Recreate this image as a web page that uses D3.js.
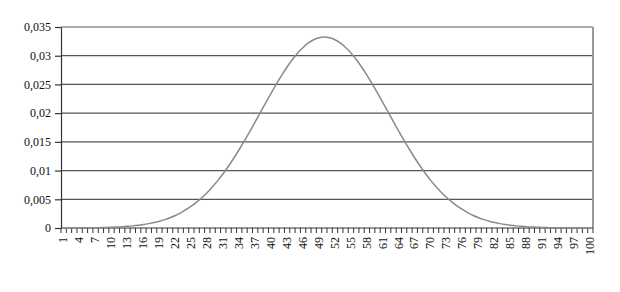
<!DOCTYPE html>
<html><head><meta charset="utf-8">
<script src="https://cdn.jsdelivr.net/npm/d3@7"></script>
<style>html,body{margin:0;padding:0;background:#fff;}svg{display:block;}</style>
</head><body>
<svg id="c" width="620" height="292"></svg>
<script>
const categories = d3.range(1, 101);
const values = [
0.00001,0.00001,0.00002,0.00002,0.00003,0.00004,0.00005,0.00007,0.00010,0.00013,
0.00017,0.00022,0.00029,0.00037,0.00047,0.00060,0.00076,0.00095,0.00118,0.00146,
0.00179,0.00218,0.00264,0.00318,0.00380,0.00450,0.00530,0.00619,0.00719,0.00829,
0.00949,0.01079,0.01219,0.01367,0.01522,0.01683,0.01848,0.02016,0.02184,0.02349,
0.02509,0.02662,0.02804,0.02933,0.03048,0.03144,0.03222,0.03278,0.03312,0.03324,
0.03312,0.03278,0.03222,0.03144,0.03048,0.02933,0.02804,0.02662,0.02509,0.02349,
0.02184,0.02016,0.01848,0.01683,0.01522,0.01367,0.01219,0.01079,0.00949,0.00829,
0.00719,0.00619,0.00530,0.00450,0.00380,0.00318,0.00264,0.00218,0.00179,0.00146,
0.00118,0.00095,0.00076,0.00060,0.00047,0.00037,0.00029,0.00022,0.00017,0.00013,
0.00010,0.00007,0.00005,0.00004,0.00003,0.00002,0.00002,0.00001,0.00001,0.00001
];
const yTicks = [0, 0.005, 0.01, 0.015, 0.02, 0.025, 0.03, 0.035];
const xLabels = categories.filter((c, i) => i % 3 === 0);

const svg = d3.select("#c");
const L = 61, R = 593, T = 27, B = 228;
const x = d3.scaleBand().domain(categories).range([L, R]).padding(0);
const y = d3.scaleLinear().domain([0, 0.035]).range([B, T]);
const loc = d3.formatLocale({decimal: ",", thousands: ".", grouping: [3], currency: ["", ""]});
const fmt = loc.format("~g");
const font = "'Liberation Serif', 'DejaVu Serif', serif";

// gridlines
svg.append("g").selectAll("line").data(yTicks.filter(d => d > 0)).join("line")
  .attr("x1", L).attr("x2", R).attr("y1", d => y(d)).attr("y2", d => y(d))
  .attr("stroke", "#555").attr("stroke-width", 1.2);

// right border
svg.append("line").attr("x1", R).attr("x2", R).attr("y1", T).attr("y2", B)
  .attr("stroke", "#999").attr("stroke-width", 2);

// y axis
const ya = svg.append("g").attr("transform", `translate(${L},0)`)
  .call(d3.axisLeft(y).tickValues(yTicks).tickFormat(fmt).tickSize(6).tickSizeOuter(0));
ya.select(".domain").attr("stroke", "#333").attr("stroke-width", 1.2);
ya.selectAll(".tick line").attr("stroke", "#333").attr("stroke-width", 1.2);
ya.selectAll("text").attr("font-family", font).attr("font-size", 12).attr("fill", "#111").attr("x", -10);

// x axis line
svg.append("line").attr("x1", L).attr("x2", R).attr("y1", B).attr("y2", B)
  .attr("stroke", "#333").attr("stroke-width", 1.2);
// boundary ticks
const bounds = categories.map(c => x(c)).concat([R]);
svg.append("g").selectAll("line").data(bounds).join("line")
  .attr("x1", d => d).attr("x2", d => d).attr("y1", B).attr("y2", B + 5)
  .attr("stroke", "#333").attr("stroke-width", 1);
// x labels
svg.append("g").selectAll("text").data(xLabels).join("text")
  .attr("transform", d => `translate(${x(d) + x.bandwidth() / 2 - 0.5},${B + 9}) rotate(-90)`)
  .attr("text-anchor", "end").attr("dy", "0.35em")
  .attr("font-family", font).attr("font-size", 12).attr("fill", "#111")
  .text(d => d);

// curve
const line = d3.line().x((d, i) => x(categories[i]) + x.bandwidth() / 2).y(d => y(d)).curve(d3.curveMonotoneX);
svg.append("path").datum(values).attr("d", line)
  .attr("fill", "none").attr("stroke", "#8a8a8a").attr("stroke-width", 1.5);
</script>
</body></html>
